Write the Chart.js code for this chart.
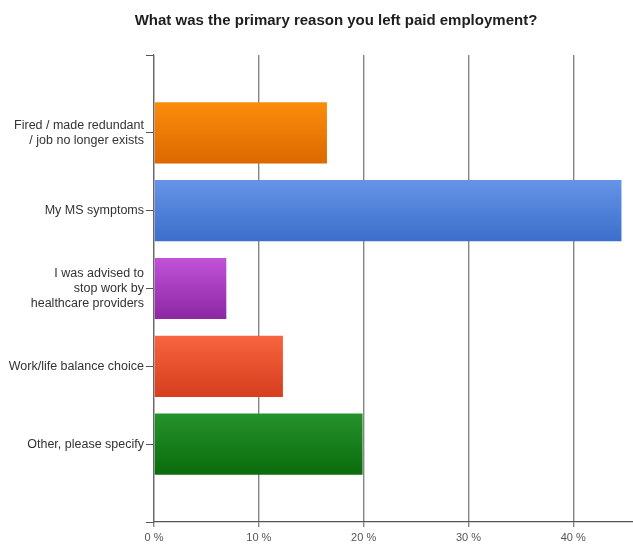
<!DOCTYPE html>
<html>
<head>
<meta charset="utf-8">
<script src="https://cdn.jsdelivr.net/npm/chart.js@4/dist/chart.umd.min.js"></script>
<style>
  html, body { margin: 0; padding: 0; background: #fff; }
  #wrap { width: 633px; height: 544px; position: relative; }
</style>
</head>
<body>
<div id="wrap"><canvas id="c"></canvas></div>
<script>
// Survey answers (top to bottom) and the share of respondents, in percent
const categories = [
  ["Fired / made redundant", "/ job no longer exists"],
  "My MS symptoms",
  ["I was advised to", "stop work by", "healthcare providers"],
  "Work/life balance choice",
  "Other, please specify"
];
const percentages = [16.5, 44.6, 6.9, 12.3, 19.9];
const xTickValues = [0, 10, 20, 30, 40];
const chartTitle = 'What was the primary reason you left paid employment?';
const topColors = ["#fb8d0c", "#6594e7", "#c252d9", "#f8643f", "#26922b"];
const bottomColors = ["#dc6800", "#3c6ecb", "#8b28a2", "#d63e1d", "#0a6c0c"];

const FONT = "'Liberation Sans', Arial, Helvetica, sans-serif";

function barGradient(ctx) {
  const chart = ctx.chart;
  const y = chart.scales && chart.scales.y;
  const i = ctx.dataIndex;
  if (!y || i === undefined || !chart.chartArea) return topColors[i || 0];
  const c = y.getPixelForValue(i);
  const half = Math.abs(y.getPixelForValue(1) - y.getPixelForValue(0)) * 0.785 / 2;
  const g = chart.ctx.createLinearGradient(0, c - half, 0, c + half);
  g.addColorStop(0, topColors[i]);
  g.addColorStop(1, bottomColors[i]);
  return g;
}

// Heading sits slightly right of the canvas centre, above the plot
const headingPlugin = {
  id: 'heading',
  afterDraw(chart) {
    const c = chart.ctx;
    c.save();
    c.font = `bold 15px ${FONT}`;
    c.fillStyle = '#1e1e1e';
    c.textAlign = 'center';
    c.textBaseline = 'alphabetic';
    c.fillText(chartTitle, 336, 25);
    c.restore();
  }
};

new Chart(document.getElementById('c'), {
  type: 'bar',
  data: {
    datasets: [{
      data: percentages.map((v, i) => ({ x: v, y: i })),
      backgroundColor: barGradient,
      borderWidth: 0,
      barPercentage: 0.785,
      categoryPercentage: 1
    }]
  },
  plugins: [headingPlugin],
  options: {
    indexAxis: 'y',
    responsive: true,
    maintainAspectRatio: false,
    animation: false,
    layout: { padding: { left: 0, right: 0, top: 55, bottom: 0 } },
    plugins: {
      legend: { display: false },
      tooltip: { enabled: false },
      title: { display: false }
    },
    scales: {
      x: {
        type: 'linear',
        min: 0,
        max: 45.7,
        afterBuildTicks: (s) => { s.ticks = xTickValues.map(v => ({ value: v })); },
        afterFit: (s) => { s.height = 22; },
        grid: { color: '#858585', lineWidth: 1.4, tickLength: 5 },
        border: { color: '#555', width: 1.2 },
        ticks: {
          color: '#555',
          font: { family: FONT, size: 11 },
          padding: 4,
          maxRotation: 0,
          callback: (v) => v + ' %'
        }
      },
      y: {
        type: 'linear',
        reverse: true,
        offset: false,
        min: -1,
        max: 5,
        afterBuildTicks: (s) => {
          const t = [];
          for (let v = -1; v <= categories.length; v++) t.push({ value: v });
          s.ticks = t;
        },
        afterFit: (s) => { s.width = 154; },
        grid: { offset: false, drawOnChartArea: false, color: '#555', tickLength: 8 },
        border: { color: '#666', width: 1.2 },
        ticks: {
          color: '#333',
          font: { family: FONT, size: 12.5, lineHeight: 1.2 },
          padding: 2,
          autoSkip: false,
          callback: (v) => (Number.isInteger(v) && v >= 0 && v < categories.length) ? categories[v] : ''
        }
      }
    }
  }
});
</script>
</body>
</html>
